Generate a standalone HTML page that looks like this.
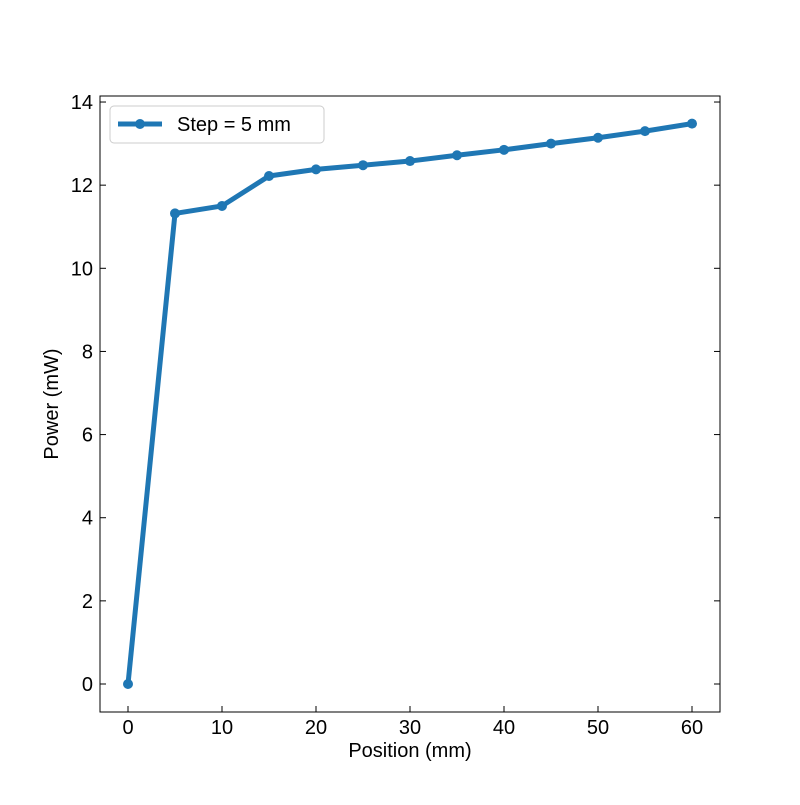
<!DOCTYPE html>
<html><head><meta charset="utf-8"><style>
body{margin:0;background:#fff}
svg text{font-family:"Liberation Sans","DejaVu Sans",sans-serif;fill:#000}
</style></head><body>
<svg id="chart" width="800" height="800" xmlns="http://www.w3.org/2000/svg">
<rect width="800" height="800" fill="#fff"/>
<g id="grid"></g>
<g id="marks"></g>
<rect x="100" y="96" width="620" height="616" fill="none" stroke="#000" stroke-width="1"/>
<text x="410" y="757" font-size="20" text-anchor="middle">Position (mm)</text>
<text x="58" y="404" font-size="20" text-anchor="middle" transform="rotate(-90 58 404)">Power (mW)</text>
<g>
<rect x="110" y="106" width="214" height="37" rx="4" fill="#fff" stroke="#ccc"/>
<line x1="118" y1="124" x2="162" y2="124" stroke="#1f77b4" stroke-width="5"/>
<circle cx="140" cy="124" r="5" fill="#1f77b4"/>
<text x="177" y="131" font-size="20">Step = 5 mm</text>
</g>
</svg>
<script>
const positions=[0,5,10,15,20,25,30,35,40,45,50,55,60];
const powers=[0,11.32,11.5,12.22,12.38,12.48,12.58,12.72,12.85,13.0,13.14,13.3,13.48];
const xTicks=[0,10,20,30,40,50,60];
const yTicks=[0,2,4,6,8,10,12,14];
const NS="http://www.w3.org/2000/svg";
const xs=v=>128+v*9.4;
const ys=v=>684-v*41.57;
const g=document.getElementById('grid'),m=document.getElementById('marks');
function mk(tag,attrs,parent){const e=document.createElementNS(NS,tag);for(const k in attrs)e.setAttribute(k,attrs[k]);parent.appendChild(e);return e;}
xTicks.forEach(t=>{
 const l=mk('line',{x1:xs(t),x2:xs(t),y1:712,y2:706,stroke:'#000'},g);
 
 
 const tx=mk('text',{x:xs(t),y:734,'font-size':20,'text-anchor':'middle'},g);
 tx.textContent=t;
 
 
});
yTicks.forEach(t=>{
 const l=mk('line',{x1:100,x2:106,y1:ys(t),y2:ys(t),stroke:'#000'},g);
 
 
 const r=mk('line',{x1:714,x2:720,y1:ys(t),y2:ys(t),stroke:'#000'},g);
 
 
 const tx=mk('text',{x:93,y:ys(t)+7,'font-size':20,'text-anchor':'end'},g);
 tx.textContent=t;
 
 
});
const pts=positions.map((p,i)=>xs(p)+','+ys(powers[i])).join(' ');
const pl=mk('polyline',{points:pts,fill:'none',stroke:'#1f77b4','stroke-width':5,'stroke-linejoin':'round'},m);


positions.forEach((p,i)=>{
 const c=mk('circle',{cx:xs(p),cy:ys(powers[i]),r:5,fill:'#1f77b4'},m);
 
 
});
</script>
</body></html>
